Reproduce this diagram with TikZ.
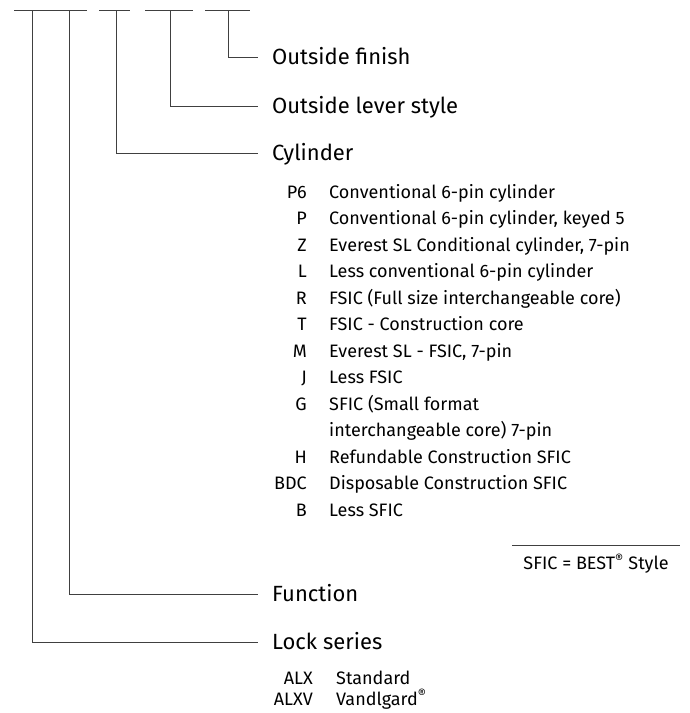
\documentclass[tikz,border=0pt]{standalone}
\usepackage{fontspec}
\setmainfont{Fira Sans}
\usetikzlibrary{positioning}

\tikzset{
	bar/.style={line width=1pt, black!75},
	head/.style={anchor=west, inner sep=0pt, text height=15pt, text depth=0pt, font=\fontsize{22}{26}\selectfont},
	code/.style={anchor=base east, inner sep=0pt, font=\fontsize{18}{22}\selectfont},
	item/.style={anchor=base west, inner sep=0pt, font=\fontsize{18}{22}\selectfont},
}

\begin{document}
\begin{tikzpicture}[x=1pt,y=-1pt]
	\useasboundingbox (0,0) rectangle (689,713);
	% top bars
	\draw[bar] (14,10) -- (87,10);
	\draw[bar] (99,10) -- (130,10);
	\draw[bar] (145,10) -- (193,10);
	\draw[bar] (205,10) -- (250,10);
	\coordinate (ser) at (32,10);
	\coordinate (fun) at (69,10);
	\coordinate (cyl) at (116,10);
	\coordinate (lev) at (170,10);
	\coordinate (fin) at (228,10);
	% headings
	\node[head] (finish) at (272,57) {Outside finish};
	\node[head] (lever) at (272,106) {Outside lever style};
	\node[head] (cylinder) at (272,153) {Cylinder};
	\node[head] (function) at (272,594) {Function};
	\node[head] (series) at (272,642) {Lock series};
	\draw[bar] (fin) |- ([xshift=-14pt]finish.west);
	\draw[bar] (lev) |- ([xshift=-14pt]lever.west);
	\draw[bar] (cyl) |- ([xshift=-14pt]cylinder.west);
	\draw[bar] (fun) |- ([xshift=-14pt]function.west);
	\draw[bar] (ser) |- ([xshift=-14pt]series.west);
	% cylinder list
	\foreach \c/\t [count=\i] in {P6/Conventional 6-pin cylinder,
			P/{Conventional 6-pin cylinder, keyed 5},
			Z/{Everest SL Conditional cylinder, 7-pin},
			L/Less conventional 6-pin cylinder,
			R/FSIC (Full size interchangeable core),
			T/FSIC - Construction core,
			M/{Everest SL - FSIC, 7-pin},
			J/Less FSIC,
			G/SFIC (Small format,
			{}/interchangeable core) 7-pin,
			H/Refundable Construction SFIC,
			BDC/Disposable Construction SFIC,
			B/Less SFIC}
	{
		\node[code] (c\i) at (307,{171.5+26.5*\i}) {\c};
		\node[item] (d\i) at (329,{171.5+26.5*\i}) {\t};
	}
	% lock series list
	\node[code] (s1) at (313,684) {ALX};
	\node[item] (t1) at (336,684) {Standard};
	\node[code] (s2) at (313,705) {ALXV};
	\node[item] (t2) at (336,705) {Vandlgard\textsuperscript{®}};
	% note
	\draw[bar] (512,545) -- (680,545);
	\node[item, anchor=center] (note) at (596,564) {SFIC = BEST\textsuperscript{®} Style};
\end{tikzpicture}
\end{document}
